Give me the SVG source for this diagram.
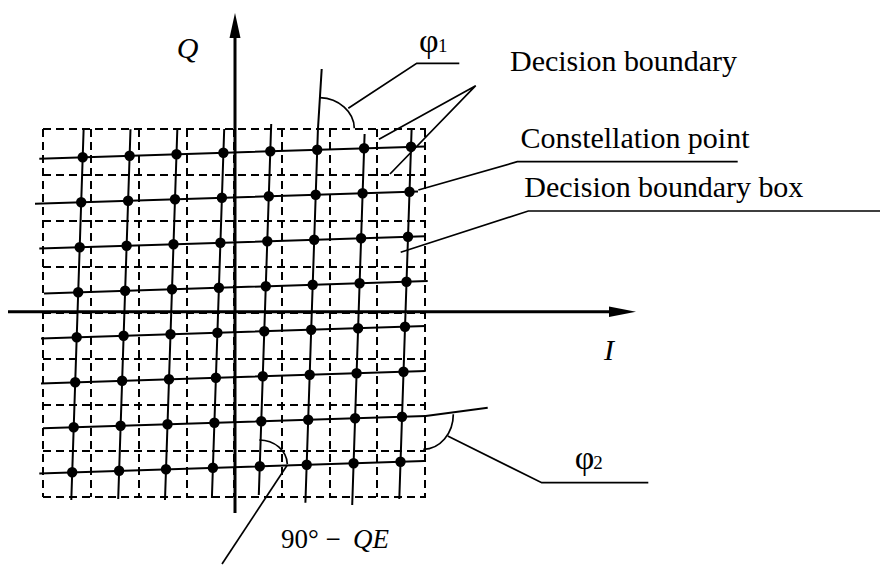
<svg xmlns="http://www.w3.org/2000/svg" width="881" height="566" viewBox="0 0 881 566">
<style>
.dash{stroke:#000;stroke-width:2;stroke-dasharray:8 5;fill:none}
.grid{stroke:#000;stroke-width:2;fill:none}
.axis{stroke:#000;stroke-width:3;fill:none}
.lead{stroke:#000;stroke-width:1.7;fill:none}
.pt{fill:#000}
.lbl{font-family:"Liberation Serif","Times New Roman",serif;font-size:30px;fill:#000}
.it{font-family:"Liberation Serif","Times New Roman",serif;font-style:italic;font-size:30px;fill:#000}
.phi{font-size:34px}
.sub{font-size:19px}
</style>
<rect width="881" height="566" fill="#fff"/>
<g id="decision-boxes">
<path class="dash" d="M43,129V497M91,129V497M139,129V497M187,129V497M234,129V497M282,129V497M330,129V497M377,129V497M425,129V497"/>
<path class="dash" d="M43,129H426M43,175H426M43,221H426M43,267H426M43,313H426M43,359H426M43,405H426M43,451H426M43,497H426"/>
</g>
<g id="decision-boundaries">
<path class="grid" d="M39.3,158.7L425,146.4M35,203.8L418,191.5M39.3,248.6L425,236.3M44,293.4L427.7,281.1M41,338.4L425.7,326.1M41,383.4L425.7,371.1M43,428.3L425.7,416M39.3,473.4L424,461"/>
<path class="grid" d="M83.6,130L71.3,500M130.5,129.3L118.2,499M177.3,130L165,500M224.2,129L211.9,498M271.2,124L258.8,495M317.9,130L305.4,502.7M364.6,134L352.2,505M411.6,129.3L399.3,499"/>
<path class="grid" d="M317.9,130L321.7,69M425.7,416L487.7,407.7"/>
</g>
<g id="constellation-points">
<circle class="pt" r="5.2" cx="82.7" cy="157.3"/><circle class="pt" r="5.2" cx="129.6" cy="155.8"/><circle class="pt" r="5.2" cx="176.5" cy="154.3"/><circle class="pt" r="5.2" cx="223.4" cy="152.8"/><circle class="pt" r="5.2" cx="270.3" cy="151.3"/><circle class="pt" r="5.2" cx="317.2" cy="149.8"/><circle class="pt" r="5.2" cx="364.1" cy="148.3"/><circle class="pt" r="5.2" cx="411" cy="146.8"/>
<circle class="pt" r="5.2" cx="81.2" cy="202.3"/><circle class="pt" r="5.2" cx="128.1" cy="200.8"/><circle class="pt" r="5.2" cx="175" cy="199.3"/><circle class="pt" r="5.2" cx="221.9" cy="197.8"/><circle class="pt" r="5.2" cx="268.8" cy="196.3"/><circle class="pt" r="5.2" cx="315.7" cy="194.8"/><circle class="pt" r="5.2" cx="362.6" cy="193.3"/><circle class="pt" r="5.2" cx="409.5" cy="191.8"/>
<circle class="pt" r="5.2" cx="79.7" cy="247.3"/><circle class="pt" r="5.2" cx="126.6" cy="245.8"/><circle class="pt" r="5.2" cx="173.5" cy="244.3"/><circle class="pt" r="5.2" cx="220.4" cy="242.8"/><circle class="pt" r="5.2" cx="267.3" cy="241.3"/><circle class="pt" r="5.2" cx="314.2" cy="239.8"/><circle class="pt" r="5.2" cx="361.1" cy="238.3"/><circle class="pt" r="5.2" cx="408" cy="236.8"/>
<circle class="pt" r="5.2" cx="78.2" cy="292.3"/><circle class="pt" r="5.2" cx="125.1" cy="290.8"/><circle class="pt" r="5.2" cx="172" cy="289.3"/><circle class="pt" r="5.2" cx="218.9" cy="287.8"/><circle class="pt" r="5.2" cx="265.8" cy="286.3"/><circle class="pt" r="5.2" cx="312.7" cy="284.8"/><circle class="pt" r="5.2" cx="359.6" cy="283.3"/><circle class="pt" r="5.2" cx="406.5" cy="281.8"/>
<circle class="pt" r="5.2" cx="76.7" cy="337.3"/><circle class="pt" r="5.2" cx="123.6" cy="335.8"/><circle class="pt" r="5.2" cx="170.5" cy="334.3"/><circle class="pt" r="5.2" cx="217.4" cy="332.8"/><circle class="pt" r="5.2" cx="264.3" cy="331.3"/><circle class="pt" r="5.2" cx="311.2" cy="329.8"/><circle class="pt" r="5.2" cx="358.1" cy="328.3"/><circle class="pt" r="5.2" cx="405" cy="326.8"/>
<circle class="pt" r="5.2" cx="75.2" cy="382.3"/><circle class="pt" r="5.2" cx="122.1" cy="380.8"/><circle class="pt" r="5.2" cx="169" cy="379.3"/><circle class="pt" r="5.2" cx="215.9" cy="377.8"/><circle class="pt" r="5.2" cx="262.8" cy="376.3"/><circle class="pt" r="5.2" cx="309.7" cy="374.8"/><circle class="pt" r="5.2" cx="356.6" cy="373.3"/><circle class="pt" r="5.2" cx="403.5" cy="371.8"/>
<circle class="pt" r="5.2" cx="73.7" cy="427.3"/><circle class="pt" r="5.2" cx="120.6" cy="425.8"/><circle class="pt" r="5.2" cx="167.5" cy="424.3"/><circle class="pt" r="5.2" cx="214.4" cy="422.8"/><circle class="pt" r="5.2" cx="261.3" cy="421.3"/><circle class="pt" r="5.2" cx="308.2" cy="419.8"/><circle class="pt" r="5.2" cx="355.1" cy="418.3"/><circle class="pt" r="5.2" cx="402" cy="416.8"/>
<circle class="pt" r="5.2" cx="72.2" cy="472.3"/><circle class="pt" r="5.2" cx="119.1" cy="470.8"/><circle class="pt" r="5.2" cx="166" cy="469.3"/><circle class="pt" r="5.2" cx="212.9" cy="467.8"/><circle class="pt" r="5.2" cx="259.8" cy="466.3"/><circle class="pt" r="5.2" cx="306.7" cy="464.8"/><circle class="pt" r="5.2" cx="353.6" cy="463.3"/><circle class="pt" r="5.2" cx="400.5" cy="461.8"/>
</g>
<g id="axes">
<line class="axis" x1="235" y1="513" x2="235" y2="36"/>
<polygon points="235,13 229.5,38 240.5,38" fill="#000"/>
<line class="axis" x1="8" y1="311.7" x2="611" y2="311.7"/>
<polygon points="636,311.7 609,306.4 609,317" fill="#000"/>
<text id="label-Q" class="it" x="176.7" y="57.5">Q</text>
<text id="label-I" class="it" x="604" y="360">I</text>
</g>
<g id="connectors">
<path class="lead" d="M320,97.7A36,31 0 0 1 354.3,128.3"/>
<path class="lead" d="M348.3,108.3L416.7,63.3H459.3"/>
<path class="lead" d="M379,139.3L475.7,85.7L390,174"/>
<path class="lead" d="M418.3,190L517.3,161.7H737.7"/>
<path class="lead" d="M400.7,252.3L528.3,211H880"/>
<path class="lead" d="M453.3,414.3A30,35 0 0 1 423.3,449.3"/>
<path class="lead" d="M447.7,436L541.7,482.7H648.3"/>
<path class="lead" d="M259.3,440A28,25 0 0 1 287.3,464"/>
<path class="lead" d="M287.3,465L222,564"/>
</g>
<g id="label-phi1"><text class="lbl" x="419" y="51.5"><tspan class="phi">φ</tspan><tspan class="sub" x="438">1</tspan></text></g>
<g id="label-decision-boundary"><text class="lbl" x="510" y="70.5" textLength="227">Decision boundary</text></g>
<g id="label-constellation-point"><text class="lbl" x="520.5" y="147.5" textLength="229">Constellation point</text></g>
<g id="label-decision-boundary-box"><text class="lbl" x="524.3" y="196.7" textLength="279">Decision boundary box</text></g>
<g id="label-phi2"><text class="lbl" x="574.7" y="469.3"><tspan class="phi">φ</tspan><tspan class="sub" x="593.3">2</tspan></text></g>
<g id="label-qe"><text class="lbl" x="281" y="548.3" style="font-size:27px">90° − <tspan font-style="italic" x="353">QE</tspan></text></g>
</svg>
